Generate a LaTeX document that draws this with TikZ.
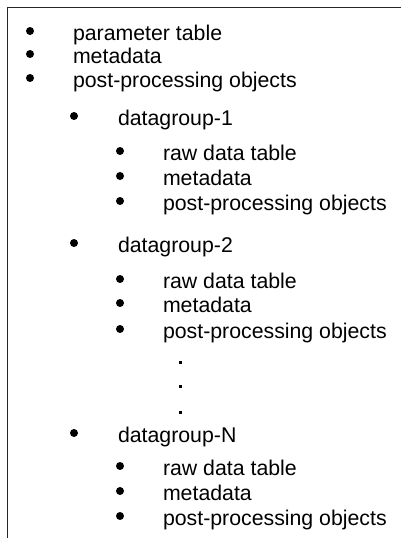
\documentclass[tikz,border=0pt]{standalone}
\usepackage{fontspec}
\setmainfont{Liberation Sans}
\begin{document}
\begin{tikzpicture}[x=1pt,y=-1pt,
  item/.style={anchor=base west,inner sep=0pt,outer sep=0pt,font=\fontsize{21.3}{24}\selectfont,text=black},
  bul/.style={circle,fill=black,inner sep=0pt,minimum size=8pt},
  dotmark/.style={rectangle,fill=black,inner sep=0pt,minimum size=3pt},
  frameline/.style={line width=1.4pt,draw=black!85}]
\useasboundingbox (0,0) rectangle (401,538);
\coordinate (ftr) at (401,7.5);
\coordinate (fc) at (7.5,7.5);
\coordinate (fbl) at (7.5,538);
\draw[frameline] (ftr) -- (fc) -- (fbl);
% level 1
\node[bul] (b1) at (30,31) {};
\node[item] (t1) at (73,40) {parameter table};
\node[bul] (b2) at (30,54) {};
\node[item] (t2) at (73,63) {metadata};
\node[bul] (b3) at (30,78) {};
\node[item] (t3) at (73,87) {post-processing objects};
% datagroup-1
\node[bul] (g1b) at (74,116) {};
\node[item] (g1) at (118,125) {datagroup-1};
\node[bul] (g1b1) at (120,151) {};
\node[item] (g1t1) at (163,160) {raw data table};
\node[bul] (g1b2) at (120,176) {};
\node[item] (g1t2) at (163,185) {metadata};
\node[bul] (g1b3) at (120,201) {};
\node[item] (g1t3) at (163,210) {post-processing objects};
% datagroup-2
\node[bul] (g2b) at (74,243) {};
\node[item] (g2) at (118,252) {datagroup-2};
\node[bul] (g2b1) at (120,279) {};
\node[item] (g2t1) at (163,288) {raw data table};
\node[bul] (g2b2) at (120,303) {};
\node[item] (g2t2) at (163,312) {metadata};
\node[bul] (g2b3) at (120,329) {};
\node[item] (g2t3) at (163,338) {post-processing objects};
% dots
\node[dotmark] (d1) at (180,362) {};
\node[dotmark] (d2) at (180,386) {};
\node[dotmark] (d3) at (180,412) {};
% datagroup-N
\node[bul] (gNb) at (74,433) {};
\node[item] (gN) at (118,442) {datagroup-N};
\node[bul] (gNb1) at (120,466) {};
\node[item] (gNt1) at (163,475) {raw data table};
\node[bul] (gNb2) at (120,491) {};
\node[item] (gNt2) at (163,500) {metadata};
\node[bul] (gNb3) at (120,516) {};
\node[item] (gNt3) at (163,525) {post-processing objects};
\end{tikzpicture}
\end{document}
